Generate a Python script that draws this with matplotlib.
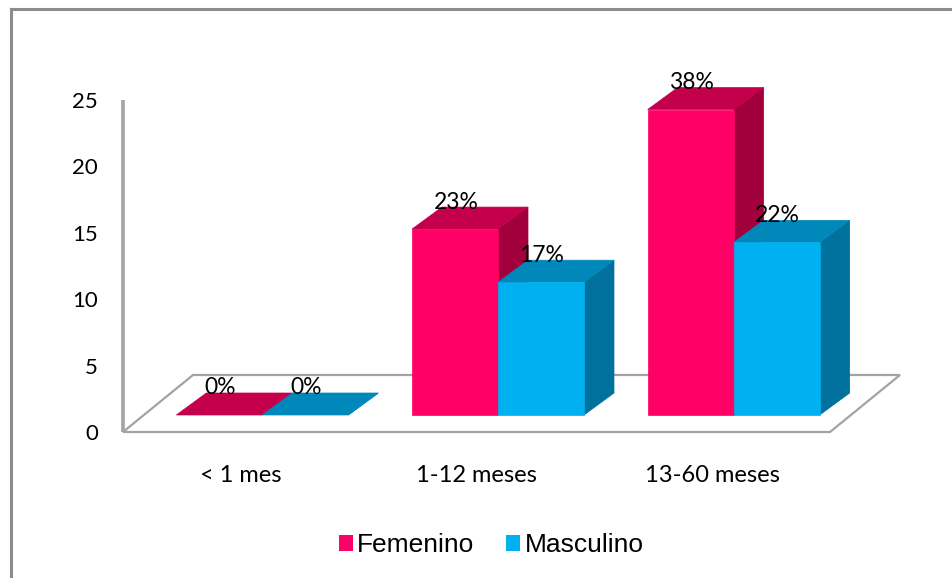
import matplotlib.pyplot as plt
from matplotlib.patches import Polygon, Patch
from matplotlib.lines import Line2D

categories = ['< 1 mes', '1-12 meses', '13-60 meses']
femenino = [0, 14, 23]
masculino = [0, 10, 13]
pct_fem = ['0%', '23%', '38%']
pct_masc = ['0%', '17%', '22%']
yticks = [0, 5, 10, 15, 20, 25]

W, H = 952, 578
fig = plt.figure(figsize=(W / 100, H / 100), dpi=100)
fig.patch.set_facecolor('white')

# plot area = front plane of the 3-D box
ax = fig.add_axes([123 / W, 1 - 432 / H, 707 / W, 332 / H])
ax.set_xlim(0, 3)
ax.set_ylim(0, 25)
for s in ax.spines.values():
    s.set_visible(False)
ax.patch.set_alpha(0)

# pixel -> data helpers for the depth offsets
ux = 707 / 3
uy = 332 / 25
floor_dx, floor_dy = 70 / ux, 57 / uy
off_x, off_y = 21.5 / ux, 17 / uy
bw = 86 / ux
bdx, bdy = 30 / ux, 22 / uy

grey = '#A3A3A3'
floor = Polygon([(0, 0), (3, 0), (3 + floor_dx, floor_dy), (floor_dx, floor_dy)],
                closed=True, facecolor='white', edgecolor=grey, lw=1.6,
                clip_on=False, zorder=1)
ax.add_patch(floor)
ax.plot([0, 0], [0, 25], color=grey, lw=2.6, clip_on=False, zorder=2,
        solid_capstyle='butt')

colors = {
    'fem': ('#FF0066', '#C4004C', '#A1003D'),
    'masc': ('#00B0F0', '#0088BA', '#00709C'),
}


def bar3d(x0, h, cols):
    front, top, side = cols
    y0 = off_y
    y1 = off_y + h
    x1 = x0 + bw
    ax.add_patch(Polygon([(x1, y0), (x1 + bdx, y0 + bdy), (x1 + bdx, y1 + bdy), (x1, y1)],
                         facecolor=side, edgecolor=side, lw=0.5, clip_on=False, zorder=3))
    ax.add_patch(Polygon([(x0, y1), (x1, y1), (x1 + bdx, y1 + bdy), (x0 + bdx, y1 + bdy)],
                         facecolor=top, edgecolor=top, lw=0.5, clip_on=False, zorder=3))
    if h > 0:
        ax.add_patch(Polygon([(x0, y0), (x1, y0), (x1, y1), (x0, y1)],
                             facecolor=front, edgecolor=front, lw=0.5, clip_on=False, zorder=3))


lab_kw = dict(ha='center', va='center', fontsize=16.5, family='Lato', color='black', zorder=5)
for i in range(len(categories)):
    xc = i + 0.5 + off_x
    xf = xc - bw
    bar3d(xf, femenino[i], colors['fem'])
    bar3d(xc, masculino[i], colors['masc'])
    ax.text(xf + bw / 2 + 1 / ux, off_y + femenino[i] + bdy + 5 / uy, pct_fem[i], **lab_kw)
    ax.text(xc + bw / 2 + 1 / ux, off_y + masculino[i] + bdy + 5 / uy, pct_masc[i], **lab_kw)

ax.set_yticks(yticks)
ax.set_yticklabels([str(t) for t in yticks], fontsize=16, family='Lato')
ax.set_xticks([0.5, 1.5, 2.5])
ax.set_xticklabels(categories, fontsize=17, family='Lato')
ax.tick_params(axis='y', length=0, pad=18)
ax.tick_params(axis='x', length=0, pad=23.5)

# outer chart border
fig.add_artist(Line2D([11 / W, 11 / W], [0, 1 - 9 / H], transform=fig.transFigure,
                      color='#8C8C8C', lw=2.2))
fig.add_artist(Line2D([11 / W, 1], [1 - 9 / H, 1 - 9 / H], transform=fig.transFigure,
                      color='#8C8C8C', lw=2.2))

handles = [Patch(facecolor=colors['fem'][0], edgecolor='none', label='Femenino'),
           Patch(facecolor=colors['masc'][0], edgecolor='none', label='Masculino')]
fig.legend(handles=handles, loc='center', bbox_to_anchor=(491 / W, 1 - 545 / H),
           ncol=2, frameon=False, prop={'family': 'Liberation Sans', 'size': 19},
           handlelength=0.55, handleheight=0.55, handletextpad=0.15, columnspacing=1.2)

fig.savefig('out.png', dpi=100, facecolor='white')
